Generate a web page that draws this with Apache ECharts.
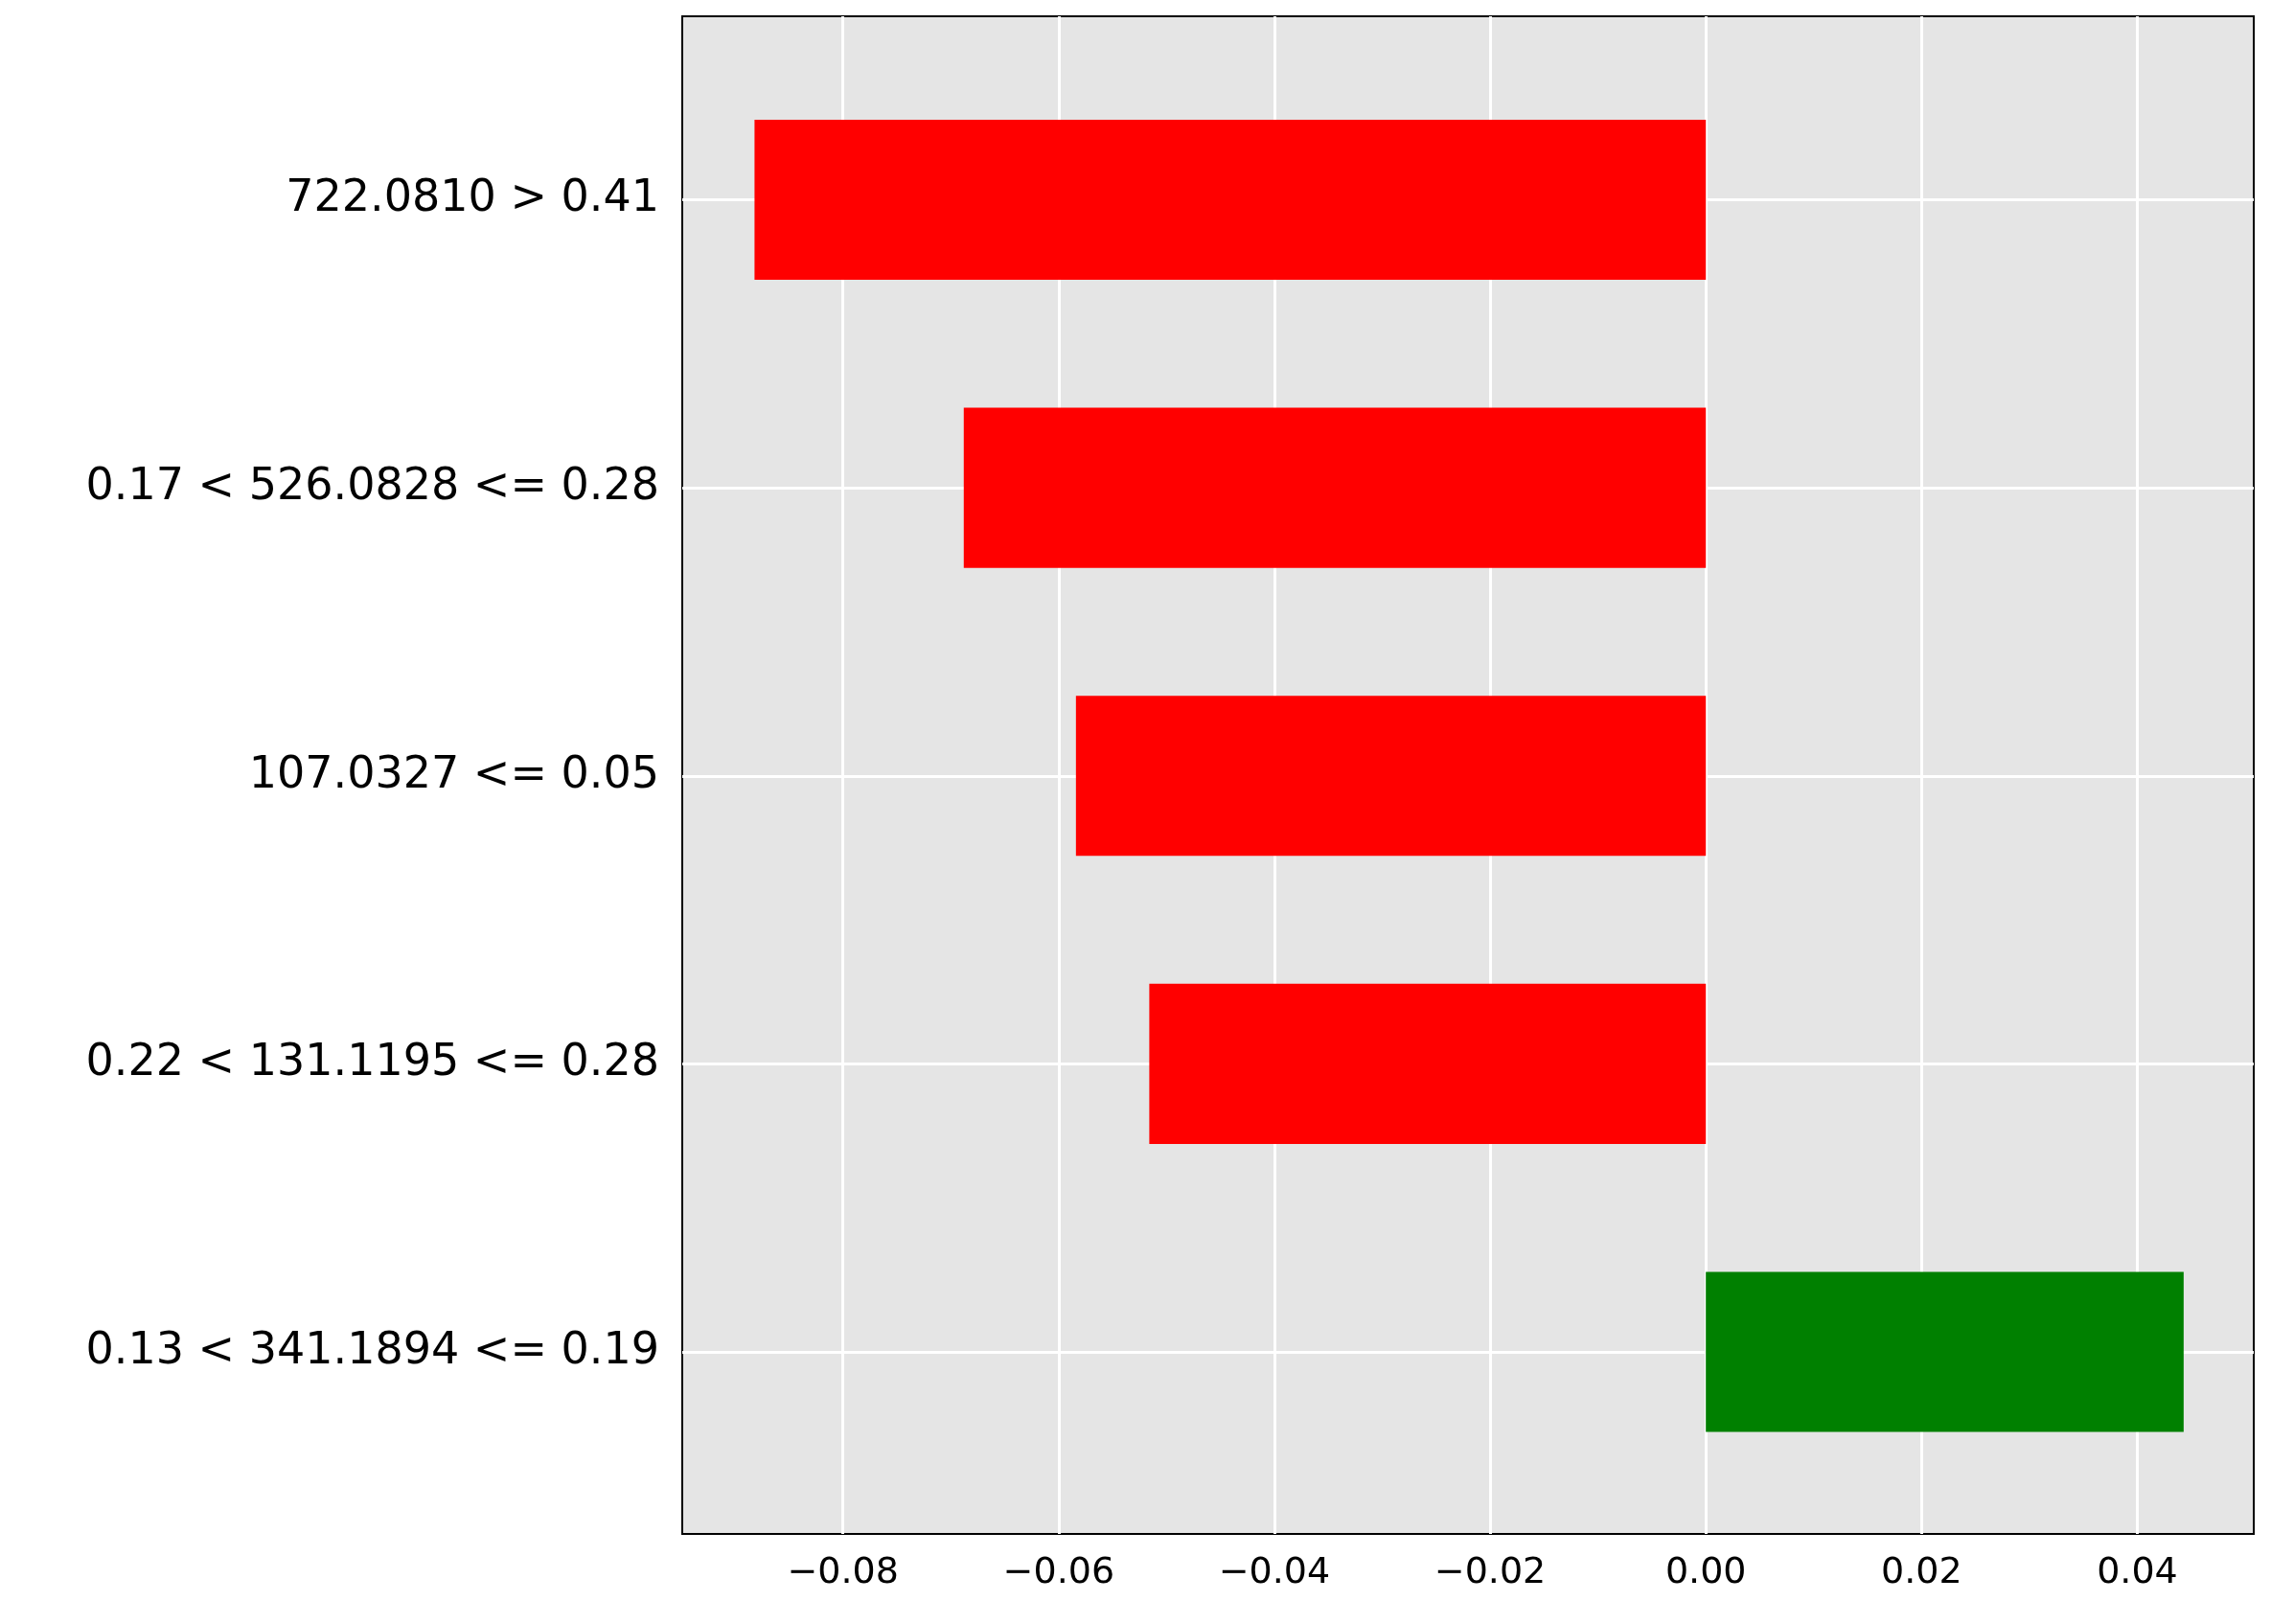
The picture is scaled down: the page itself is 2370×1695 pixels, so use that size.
<!DOCTYPE html>
<html>
<head>
<meta charset="UTF-8">
<script src="https://cdn.jsdelivr.net/npm/echarts@6/dist/echarts.min.js"></script>
<style>html,body{margin:0;padding:0;background:#fff;}</style>
</head>
<body>
<div id="chart" style="width:2370px;height:1695px;"></div>
<script>
// bottom to top
var features = ['0.13 < 341.1894 <= 0.19', '0.22 < 131.1195 <= 0.28', '107.0327 <= 0.05', '0.17 < 526.0828 <= 0.28', '722.0810 > 0.41'];
var weights = [0.0443, -0.0516, -0.0584, -0.0688, -0.0882];
var xTicks = [-0.08, -0.06, -0.04, -0.02, 0.00, 0.02, 0.04];

var chart = echarts.init(document.getElementById('chart'));
var barData = weights.map(function (w, i) { return [i, w]; });

chart.setOption({
  animation: false,
  grid: {left: 712, right: 18, top: 17, bottom: 94, show: true, backgroundColor: '#e5e5e5', borderColor: '#000', borderWidth: 2},
  xAxis: {
    type: 'value', min: -0.0949, max: 0.0508,
    axisLine: {show: false},
    axisTick: {show: true, customValues: xTicks, length: 12, lineStyle: {color: '#000', width: 2}},
    axisLabel: {customValues: xTicks, fontFamily: 'DejaVu Sans', fontSize: 38, color: '#000', margin: 22,
      formatter: function (v) { return (v < 0 ? '\u2212' : '') + Math.abs(v).toFixed(2); }},
    splitLine: {show: false}
  },
  yAxis: {
    type: 'value', min: -0.632, max: 4.637,
    axisLine: {show: false},
    axisTick: {show: true, customValues: [0, 1, 2, 3, 4], length: 12, lineStyle: {color: '#000', width: 2}},
    axisLabel: {customValues: [0, 1, 2, 3, 4], fontFamily: 'DejaVu Sans', fontSize: 46, color: '#000', margin: 24,
      formatter: function (v) { return features[Math.round(v)]; }},
    splitLine: {show: false}
  },
  series: [{
    type: 'custom',
    data: barData,
    renderItem: function (params, api) {
      var i = api.value(0), w = api.value(1);
      var p0 = api.coord([0, i + 0.278]);
      var p1 = api.coord([w, i - 0.278]);
      return {
        type: 'rect',
        shape: {x: Math.min(p0[0], p1[0]), y: p0[1], width: Math.abs(p1[0] - p0[0]), height: p1[1] - p0[1]},
        style: {fill: w > 0 ? '#008000' : '#ff0000'},
        z2: 10
      };
    },
    markLine: {
      silent: true, symbol: 'none', z: 1, label: {show: false},
      lineStyle: {color: '#fff', width: 3, type: 'solid'},
      data: [0, 1, 2, 3, 4].map(function (v) { return {yAxis: v}; })
        .concat(xTicks.map(function (v) { return {xAxis: v}; }))
    }
  }]
});
</script>
</body>
</html>
